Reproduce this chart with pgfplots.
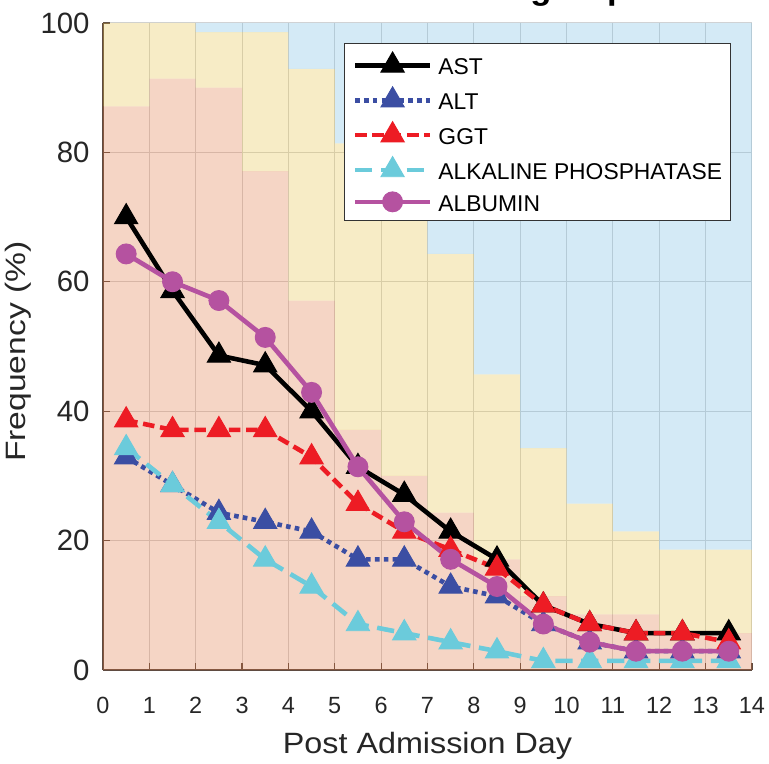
\documentclass[border=0pt]{standalone}
\usepackage{pgfplots}
\pgfplotsset{compat=1.18}
\usepgfplotslibrary{fillbetween}
\usepackage{fontspec}
\setmainfont{Liberation Sans}
\definecolor{cpink}{RGB}{222,115,62}
\definecolor{cyel}{RGB}{228,192,65}
\definecolor{cblue}{RGB}{112,185,225}
\definecolor{cast}{RGB}{0,0,0}
\definecolor{calt}{RGB}{59,78,163}
\definecolor{cggt}{RGB}{237,28,36}
\definecolor{calk}{RGB}{107,203,219}
\definecolor{calb}{RGB}{181,82,160}
\definecolor{caxis}{RGB}{95,75,65}
\begin{document}
\begin{tikzpicture}
\begin{axis}[
  at={(0pt,0pt)}, anchor=south west,
  scale only axis, width=338pt, height=337pt,
  xmin=0, xmax=14, ymin=0, ymax=100, enlargelimits=false,
  axis x line=bottom, axis y line=left,
  axis line style={-, draw=caxis, line width=0.6pt},
  xtick={0,...,14}, ytick={0,20,...,100},
  tick align=inside, major tick length=3.6pt,
  tick style={draw=caxis, line width=0.6pt},
  grid=major, major grid style={draw=black!17, line width=0.5pt},
  /pgf/number format/assume math mode=true,
  xticklabel style={font=\fontsize{12.2}{14}\selectfont, inner sep=0pt, anchor=north, text=black!85},
  xticklabel shift=13.9pt,
  yticklabel style={font=\fontsize{15.3}{18}\selectfont, inner sep=0pt, anchor=east, text=black!85},
  yticklabel shift=6.8pt,
  xlabel={\scalebox{1.1}[1]{Post Admission Day}},
  xlabel style={at={(axis description cs:0.5,-0.1288)}, anchor=base, font=\fontsize{15.3}{18}\selectfont, inner sep=0pt, text=black!85},
  ylabel={\scalebox{1.2}[1]{Frequency (\%)}},
  ylabel style={at={(axis description cs:-0.120,0.492)}, anchor=base, font=\fontsize{14.6}{17}\selectfont, inner sep=0pt, text=black!85},
  title={\scalebox{1.06}[1]{\bfseries GI-Liver - ICU sub-group}},
  title style={at={(axis description cs:0.5,1.019)}, anchor=base, font=\fontsize{17}{20}\selectfont, inner sep=0pt},
  legend style={at={(0.968,0.969)}, anchor=north east, draw=black!80, line width=0.5pt, fill=white,
    font=\fontsize{11.9}{14}\selectfont, inner xsep=4.5pt, inner ysep=4.4pt, row sep=5.77pt, column sep=3.2pt,
    nodes={inner sep=0pt, text height=10.3pt, text depth=0.5pt}},
  legend cell align=left,
  legend image code/.code={\draw[mark repeat=2,mark phase=2] plot coordinates {(0pt,0pt) (19.5pt,0pt) (39pt,0pt)};},
]
% background stacked regions
\addplot[name path=Z, draw=none, forget plot] coordinates {(0,0) (14,0)};
\addplot[name path=P, draw=none, const plot, forget plot] coordinates {
 (0,87.1) (1,91.4) (2,90.0) (3,77.1) (4,57.1) (5,37.1) (6,30.0) (7,24.3) (8,17.1) (9,11.4) (10,8.6) (11,8.6) (12,5.7) (13,5.7) (14,5.7)};
\addplot[name path=Y, draw=none, const plot, forget plot] coordinates {
 (0,100) (1,100) (2,98.6) (3,98.6) (4,92.9) (5,81.4) (6,77.1) (7,64.3) (8,45.7) (9,34.3) (10,25.7) (11,21.4) (12,18.6) (13,18.6) (14,18.6)};
\addplot[name path=T, draw=none, forget plot] coordinates {(0,100) (14,100)};
\addplot[fill=cpink, fill opacity=0.3, draw=none, forget plot] fill between[of=Z and P];
\addplot[fill=cyel, fill opacity=0.3, draw=none, forget plot] fill between[of=P and Y];
\addplot[fill=cblue, fill opacity=0.3, draw=none, forget plot] fill between[of=Y and T];
% series
\addplot[cast, line width=2.4pt, mark=triangle*, mark size=7pt, mark options={solid, fill=cast, line width=0.5pt}] coordinates {
 (0.5,70.0) (1.5,58.6) (2.5,48.6) (3.5,47.1) (4.5,40.0) (5.5,31.4) (6.5,27.1) (7.5,21.4) (8.5,17.1) (9.5,10.0) (10.5,7.1) (11.5,5.7) (12.5,5.7) (13.5,5.7)};
\addlegendentry{AST}
\addplot[calt, line width=2.4pt, line cap=butt, dash pattern=on 2.4pt off 2.2pt, mark=triangle*, mark size=7pt, mark options={solid, fill=calt, line width=0.5pt}] coordinates {
 (0.5,32.9) (1.5,28.6) (2.5,24.3) (3.5,22.9) (4.5,21.4) (5.5,17.1) (6.5,17.1) (7.5,12.9) (8.5,11.4) (9.5,7.1) (10.5,4.3) (11.5,2.9) (12.5,2.9) (13.5,2.9)};
\addlegendentry{ALT}
\addplot[cggt, line width=2.4pt, dash pattern=on 6pt off 3pt, mark=triangle*, mark size=7pt, mark options={solid, fill=cggt, line width=0.5pt}] coordinates {
 (0.5,38.6) (1.5,37.1) (2.5,37.1) (3.5,37.1) (4.5,32.9) (5.5,25.7) (6.5,21.4) (7.5,18.6) (8.5,15.7) (9.5,10.0) (10.5,7.1) (11.5,5.7) (12.5,5.7) (13.5,4.3)};
\addlegendentry{GGT}
\addplot[calk, line width=2.4pt, dash pattern=on 9pt off 4.5pt, mark=triangle*, mark size=7pt, mark options={solid, fill=calk, line width=0.5pt}] coordinates {
 (0.5,34.3) (1.5,28.6) (2.5,22.9) (3.5,17.1) (4.5,12.9) (5.5,7.1) (6.5,5.7) (7.5,4.3) (8.5,2.9) (9.5,1.4) (10.5,1.4) (11.5,1.4) (12.5,1.4) (13.5,1.4)};
\addlegendentry{ALKALINE PHOSPHATASE}
\addplot[calb, line width=2.4pt, mark=*, mark size=5.2pt, mark options={solid, fill=calb, line width=0.5pt}] coordinates {
 (0.5,64.3) (1.5,60.0) (2.5,57.1) (3.5,51.4) (4.5,42.9) (5.5,31.4) (6.5,22.9) (7.5,17.1) (8.5,12.9) (9.5,7.1) (10.5,4.3) (11.5,2.9) (12.5,2.9) (13.5,2.9)};
\addlegendentry{ALBUMIN}
\end{axis}
\pgfresetboundingbox
\path[use as bounding box] (-53.65pt,-48.96pt) rectangle (346.9pt,348.96pt);
\end{tikzpicture}
\end{document}
